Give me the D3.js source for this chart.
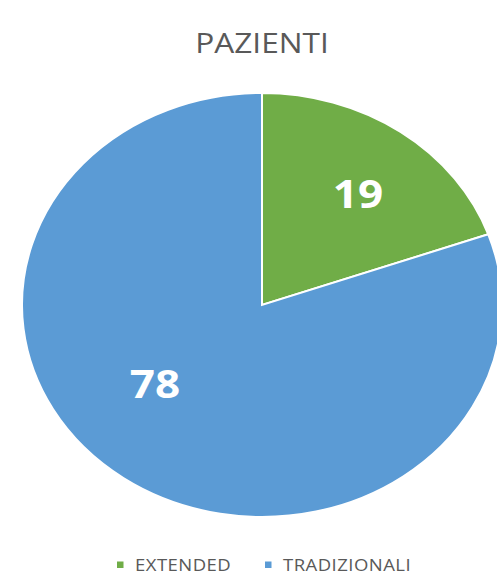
<!DOCTYPE html>
<html lang="it">
<head>
  <meta charset="UTF-8">
  <title>Pazienti</title>
  <script src="https://d3js.org/d3.v7.min.js"></script>
  <style>
    body { margin: 0; background: #fff; }
    text { font-family: "Open Sans", sans-serif; }
  </style>
</head>
<body>
  <div id="chart"></div>
  <script>
    // dati
    var categories = ["EXTENDED", "TRADIZIONALI"];
    var values = [19, 78];
    var colors = ["#70AD47", "#5B9BD5"];

    var W = 497, H = 574;
    var cx = 262, cy = 305;
    var rx = 240, ry = 212;   // il grafico e' stirato in orizzontale
    var sx = 1.13;            // stiramento anche del testo

    // spostamento etichette (frazione raggio, correzione angolo in gradi)
    var labelPos = [{ r: 0.66, da: 2 }, { r: 0.58, da: 15 }];

    var svg = d3.select("#chart")
      .append("svg")
      .attr("width", W)
      .attr("height", H);

    // titolo
    svg.append("text")
      .attr("transform", "translate(262,53) scale(" + sx + ",1)")
      .attr("text-anchor", "middle")
      .style("font-size", "28px")
      .style("fill", "#595959")
      .text("PAZIENTI");

    var pie = d3.pie().sort(null).value(function(d) { return d; });
    var arcs = pie(values);

    var arc = d3.arc().innerRadius(0).outerRadius(ry);

    var g = svg.append("g")
      .attr("transform", "translate(" + cx + "," + cy + ") scale(" + (rx / ry) + ",1)");

    g.selectAll("path")
      .data(arcs)
      .enter()
      .append("path")
      .attr("d", arc)
      .style("fill", function(d, i) { return colors[i]; })
      .style("stroke", "#fff")
      .style("stroke-width", 2)
      .attr("vector-effect", "non-scaling-stroke");

    // etichette valori
    svg.selectAll(".lbl")
      .data(arcs)
      .enter()
      .append("text")
      .attr("class", "lbl")
      .attr("transform", function(d, i) {
        var a = (d.startAngle + d.endAngle) / 2 + labelPos[i].da * Math.PI / 180;
        var x = cx + Math.sin(a) * rx * labelPos[i].r;
        var y = cy - Math.cos(a) * ry * labelPos[i].r;
        return "translate(" + x + "," + y + ") scale(" + sx + ",1)";
      })
      .attr("text-anchor", "middle")
      .attr("dy", "0.36em")
      .style("font-size", "39px")
      .style("font-weight", "bold")
      .style("fill", "#fff")
      .text(function(d) { return d.data; });

    // legenda
    var legX = [117, 265];
    var leg = svg.selectAll(".leg")
      .data(categories)
      .enter()
      .append("g")
      .attr("class", "leg")
      .attr("transform", function(d, i) { return "translate(" + legX[i] + ",565)"; });

    leg.append("rect")
      .attr("x", 0)
      .attr("y", -3.5)
      .attr("width", 6.5)
      .attr("height", 6.5)
      .style("fill", function(d, i) { return colors[i]; });

    leg.append("text")
      .attr("transform", "translate(18,6) scale(" + sx + ",1)")
      .style("font-size", "16.4px")
      .style("letter-spacing", "0.4px")
      .style("fill", "#595959")
      .text(function(d) { return d; });
  </script>
</body>
</html>
